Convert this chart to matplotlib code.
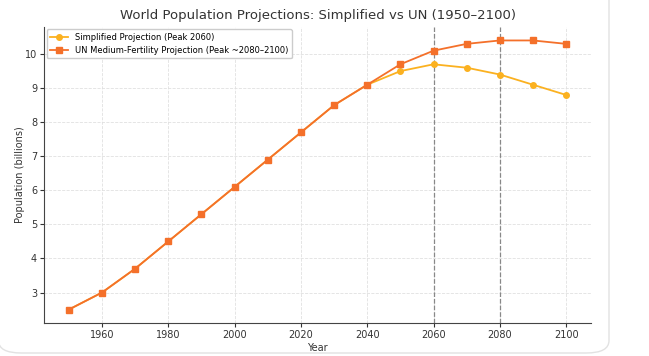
import matplotlib
matplotlib.use("Agg")
import matplotlib.pyplot as plt
from matplotlib.patches import FancyBboxPatch

# data
years = [1950, 1960, 1970, 1980, 1990, 2000, 2010, 2020, 2030, 2040,
         2050, 2060, 2070, 2080, 2090, 2100]
simplified = [2.5, 3.0, 3.7, 4.5, 5.3, 6.1, 6.9, 7.7, 8.5, 9.1,
              9.5, 9.7, 9.6, 9.4, 9.1, 8.8]
un_medium = [2.5, 3.0, 3.7, 4.5, 5.3, 6.1, 6.9, 7.7, 8.5, 9.1,
             9.7, 10.1, 10.3, 10.4, 10.4, 10.3]
peak_lines = [2060, 2080]
x_ticks = [1960, 1980, 2000, 2020, 2040, 2060, 2080, 2100]
y_ticks = [3, 4, 5, 6, 7, 8, 9, 10]

W, H = 649, 356
fig = plt.figure(figsize=(W / 100, H / 100), dpi=100)

# card outline behind the chart (screenshot frame), bottom corners visible
card = FancyBboxPatch((-1.5 / W, 3 / H), 610.5 / W, (H + 30) / H,
                      boxstyle="round,pad=0,rounding_size=0.035",
                      transform=fig.transFigure, facecolor="white",
                      edgecolor="#e2e2e2", linewidth=1.0, zorder=-5)
fig.patches.append(card)

ax = fig.add_axes([44 / W, (H - 323) / H, (591 - 44) / W, (323 - 27) / H])
ax.set_facecolor("none")

c_simp = "#fbb120"
c_un = "#f4702a"

ax.plot(years, simplified, color=c_simp, marker="o", markersize=4,
        linewidth=1.3, label="Simplified Projection (Peak 2060)", zorder=3)
ax.plot(years, un_medium, color=c_un, marker="s", markersize=4,
        linewidth=1.3, label="UN Medium-Fertility Projection (Peak ~2080\u20132100)",
        zorder=4)

for yr in peak_lines:
    ax.axvline(yr, color="#888888", linestyle="--", linewidth=0.9, zorder=2)

ax.set_xticks(x_ticks)
ax.set_yticks(y_ticks)
ax.grid(True, linestyle="--", color="#e0e0e0", linewidth=0.6)
ax.set_axisbelow(True)
for s in ["top", "right"]:
    ax.spines[s].set_visible(False)
for s in ["left", "bottom"]:
    ax.spines[s].set_color("#444444")
ax.tick_params(labelsize=7, colors="#333333", length=3, pad=2)

ax.set_xlabel("Year", fontsize=7, color="#333333", labelpad=2)
ax.set_ylabel("Population (billions)", fontsize=7, color="#333333", labelpad=-0.5)
ax.set_title("World Population Projections: Simplified vs UN (1950\u20132100)",
             fontsize=9.5, color="#333333", pad=6)

ax.legend(loc="upper left", fontsize=6, frameon=True, framealpha=1,
          edgecolor="#cccccc", borderaxespad=0.3, handlelength=2.2)

fig.savefig("out.png", dpi=100)
